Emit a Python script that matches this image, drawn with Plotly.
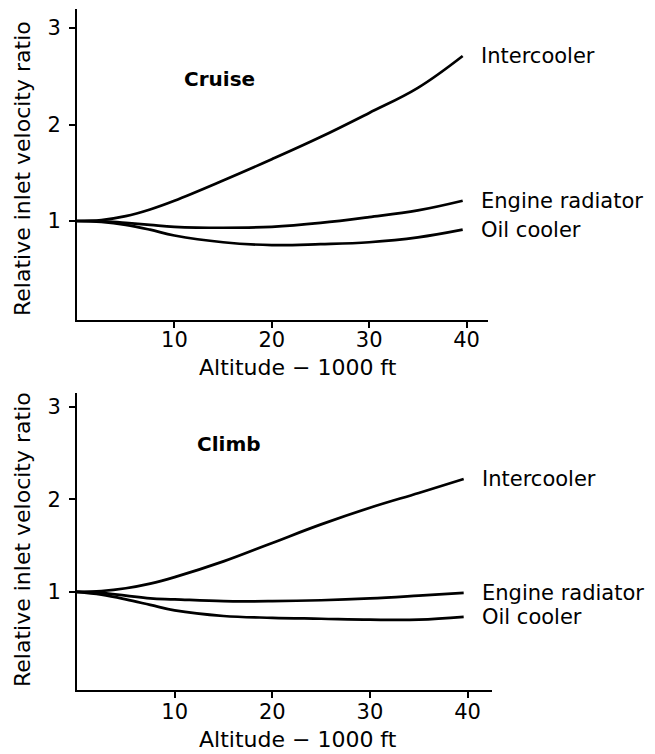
import plotly.graph_objects as go

# ---- data (altitude in 1000 ft, relative inlet velocity ratio) ----
alt = [0, 2.5, 5, 7.5, 10, 15, 20, 25, 30, 35, 39.6]

cruise_intercooler = [1.00, 1.01, 1.05, 1.12, 1.21, 1.42, 1.64, 1.87, 2.12, 2.38, 2.71]
cruise_engine_rad  = [1.00, 1.00, 0.98, 0.96, 0.94, 0.93, 0.94, 0.98, 1.04, 1.11, 1.21]
cruise_oil_cooler  = [1.00, 0.99, 0.96, 0.91, 0.85, 0.78, 0.75, 0.76, 0.78, 0.83, 0.91]

climb_intercooler = [1.00, 1.01, 1.04, 1.09, 1.16, 1.33, 1.53, 1.73, 1.91, 2.07, 2.22]
climb_engine_rad  = [1.00, 0.99, 0.96, 0.93, 0.92, 0.90, 0.90, 0.91, 0.93, 0.96, 0.99]
climb_oil_cooler  = [1.00, 0.97, 0.92, 0.86, 0.80, 0.74, 0.72, 0.71, 0.70, 0.70, 0.73]

x_ticks = [10, 20, 30, 40]
y_ticks = [1, 2, 3]
series_names = ["Intercooler", "Engine radiator", "Oil cooler"]
x_title = "Altitude − 1000 ft"
y_title = "Relative inlet velocity ratio"

FONT = "DejaVu Sans, Liberation Sans, Arial, sans-serif"
W, H = 655, 754

fig = go.Figure()

panels = [
    ("x", "y", [cruise_intercooler, cruise_engine_rad, cruise_oil_cooler]),
    ("x2", "y2", [climb_intercooler, climb_engine_rad, climb_oil_cooler]),
]

for xa, ya, series in panels:
    for name, vals in zip(series_names, series):
        fig.add_trace(go.Scatter(
            x=alt, y=vals, mode="lines", name=name, xaxis=xa, yaxis=ya,
            line=dict(color="black", width=2.7, shape="spline", smoothing=1.1),
            showlegend=False, hoverinfo="skip",
        ))
        fig.add_annotation(
            x=alt[-1], y=vals[-1], xref=xa, yref=ya, text=name,
            showarrow=False, xanchor="left", yanchor="middle", xshift=16,
            font=dict(family=FONT, size=21, color="black"),
        )

# panel titles
fig.add_annotation(x=10.8, y=2.47, xref="x", yref="y", text="<b>Cruise</b>",
                   showarrow=False, xanchor="left", yanchor="middle",
                   font=dict(family=FONT, size=20, color="black"))
fig.add_annotation(x=12.1, y=2.6, xref="x2", yref="y2", text="<b>Climb</b>",
                   showarrow=False, xanchor="left", yanchor="middle",
                   font=dict(family=FONT, size=20, color="black"))

# axis titles (placed as in the original figure)
for cx, cy in [(298, 367), (298, 739)]:
    fig.add_annotation(x=cx / W, y=1 - cy / H, xref="paper", yref="paper",
                       text=x_title, showarrow=False,
                       xanchor="center", yanchor="middle",
                       font=dict(family=FONT, size=22, color="black"))
for cx, cy in [(22, 169), (22, 540)]:
    fig.add_annotation(x=cx / W, y=1 - cy / H, xref="paper", yref="paper",
                       text=y_title, showarrow=False, textangle=-90,
                       xanchor="center", yanchor="middle",
                       font=dict(family=FONT, size=22, color="black"))

axis_common = dict(
    showgrid=False, zeroline=False, showline=True, linecolor="black", linewidth=2,
    ticks="outside", tickcolor="black", tickwidth=2, ticklen=6, automargin=False,
    tickfont=dict(family=FONT, size=21, color="black"),
)

fig.update_layout(
    width=W, height=H,
    margin=dict(l=0, r=0, t=0, b=0),
    paper_bgcolor="white", plot_bgcolor="white",
    xaxis=dict(domain=[77/W, 488/W], range=[0, 42.2], tickvals=x_ticks,
               anchor="y", ticklabelstandoff=-6, **axis_common),
    yaxis=dict(domain=[1-320/H, 1-9/H], range=[-0.026, 3.197], tickvals=y_ticks,
               anchor="x", ticklabelstandoff=4, **axis_common),
    xaxis2=dict(domain=[77/W, 492/W], range=[0, 42.5], tickvals=x_ticks,
                anchor="y2", ticklabelstandoff=-4, **axis_common),
    yaxis2=dict(domain=[1-690/H, 1-393/H], range=[-0.06, 3.15], tickvals=y_ticks,
                anchor="x2", ticklabelstandoff=4, **axis_common),
)

fig.write_html("out.html", config={"displayModeBar": False},
               post_script="document.body.style.margin='0';")
